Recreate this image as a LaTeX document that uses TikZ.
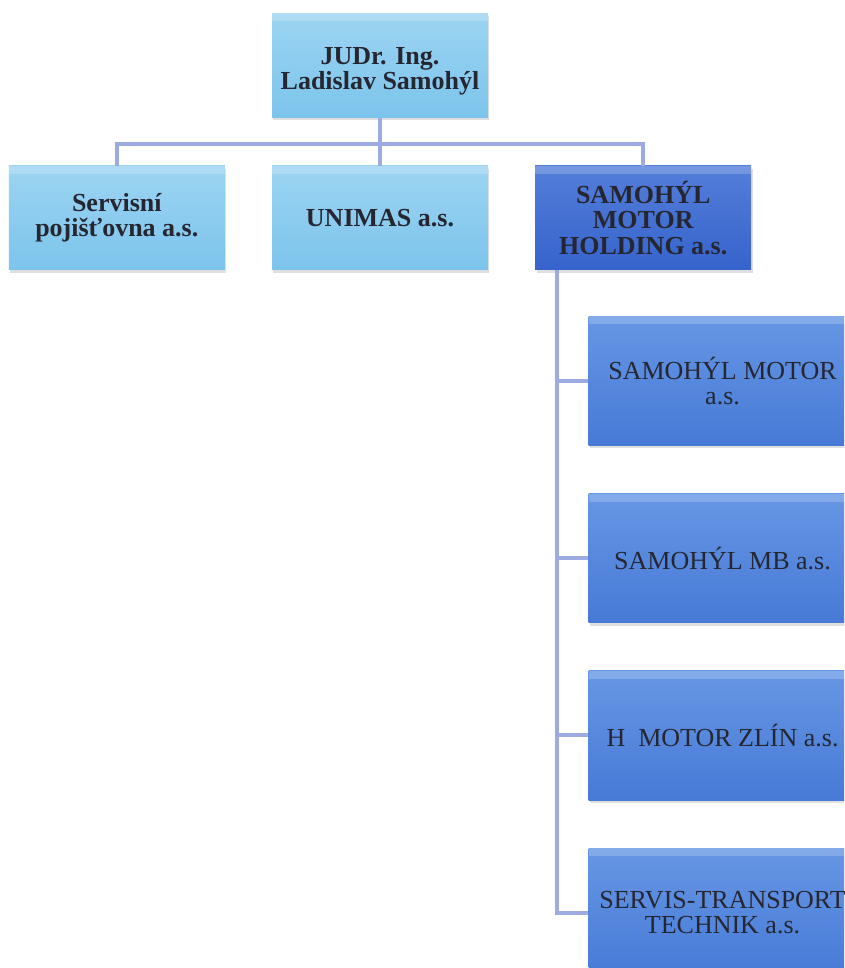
\documentclass[tikz,border=0pt]{standalone}
\usepackage{fontspec}
\setmainfont{Liberation Serif}
\newfontfamily\orgfont{Liberation Serif}
\usepackage{tikz}
\usetikzlibrary{positioning, calc, shadows}
\definecolor{paleblue}{RGB}{124,196,236}
\definecolor{paletop}{RGB}{156,212,242}
\definecolor{deepblue}{RGB}{54,100,204}
\definecolor{deeptop}{RGB}{84,126,218}
\definecolor{firmblue}{RGB}{70,122,214}
\definecolor{firmtop}{RGB}{102,150,228}
\definecolor{busline}{RGB}{156,172,226}
\definecolor{ink}{RGB}{38,38,48}
\tikzset{
	node distance=36pt,
	box/.style={rectangle, inner sep=2pt, align=center, text=ink,
		drop shadow={opacity=0.25, shadow xshift=1pt, shadow yshift=-2pt},
		path picture={\fill[white, opacity=0.2] (path picture bounding box.north west) rectangle ([yshift=-6pt]path picture bounding box.north east);},
		font=\orgfont\fontsize{19.5}{19}\selectfont},
	unit/.style={box, minimum width=162pt, minimum height=78pt, font=\orgfont\bfseries\fontsize{19.5}{19}\selectfont,
		top color=paletop, bottom color=paleblue},
	holding/.style={unit, top color=deeptop, bottom color=deepblue},
	firm/.style={box, minimum width=201pt, minimum height=97pt,
		top color=firmtop, bottom color=firmblue},
	bus/.style={draw=busline, line width=3pt},
}
\begin{document}
\begin{tikzpicture}
			\useasboundingbox (0,0) rectangle (633pt,-726pt);
			\clip (0,0) rectangle (633pt,-726pt);
			
			\node[unit, text height=36pt, text depth=0pt] (ROOT) at (285pt,-49pt) {JUDr. Ing.\\Ladislav Samohýl};
			\node[unit, below=of ROOT] (UNIMAS) {UNIMAS a.s.};
			\node[unit, left=35pt of UNIMAS] (SERVIS) {Servisní\\pojišťovna a.s.};
			\node[holding, right=35pt of UNIMAS] (HOLDING) {SAMOHÝL\\MOTOR\\HOLDING a.s.};
			
			\node[firm, below right=34.5pt and 40pt of HOLDING.south west] (MOTOR) {SAMOHÝL MOTOR\\a.s.};
			\node[firm, below=35.5pt of MOTOR] (MB) {SAMOHÝL MB a.s.};
			\node[firm, below=35.5pt of MB] (ZLIN) {H\ \ MOTOR ZLÍN a.s.};
			\node[firm, below=35.5pt of ZLIN] (TECHNIK) {SERVIS-TRANSPORT\\TECHNIK a.s.};
			
			% upper bus
			\coordinate (BUS) at ($(ROOT.south)+(0,-19.5pt)$);
			\draw[bus] (ROOT.south) -- (UNIMAS.north);
			\draw[bus] (SERVIS.north) |- (BUS) -| (HOLDING.north);
			
			% holding bus
			\coordinate (SPINE) at ($(HOLDING.south west)+(16.5pt,0)$);
			\draw[bus] (SPINE) |- (TECHNIK.west);
			\draw[bus] (MOTOR.west) -- ++(-23.25pt,0);
			\draw[bus] (MB.west) -- ++(-23.25pt,0);
			\draw[bus] (ZLIN.west) -- ++(-23.25pt,0);
		\end{tikzpicture}
\end{document}
